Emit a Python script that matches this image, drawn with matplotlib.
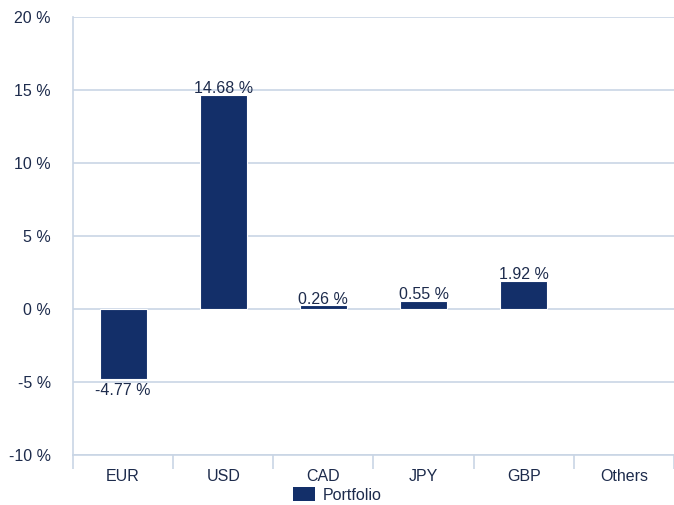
import matplotlib.pyplot as plt
import numpy as np
from matplotlib.patches import Patch

currencies = ["EUR", "USD", "CAD", "JPY", "GBP", "Others"]
portfolio = [-4.77, 14.68, 0.26, 0.55, 1.92, None]
y_ticks = [-10, -5, 0, 5, 10, 15, 20]

navy = "#132f69"
text_col = "#1d2b4c"
grid_col = "#c9d5e5"

plt.rcParams["font.family"] = ["Liberation Sans", "DejaVu Sans"]

fig = plt.figure(figsize=(6.74, 5.05), dpi=100)
ax = fig.add_axes([73 / 674, 50 / 505, 1 - 73 / 674, 438 / 505])

x = np.arange(len(currencies))
for i, v in enumerate(portfolio):
    if v is None:
        continue
    ax.bar(x[i], v, width=0.47, color=navy, edgecolor="white", linewidth=0.8, zorder=3)
    if v >= 0:
        ax.text(x[i], v - 0.1, "%.2f %%" % v, ha="center", va="bottom",
                fontsize=11.5, color=text_col, zorder=4)
    else:
        ax.text(x[i], v - 0.3, "%.2f %%" % v, ha="center", va="top",
                fontsize=11.5, color=text_col, zorder=4)

ax.set_xlim(-0.5, len(currencies) - 0.5)
ax.set_ylim(-10, 20)
ax.set_yticks(y_ticks)
ax.set_yticklabels(["%d %%" % t for t in y_ticks], fontsize=11.5, color=text_col)
ax.yaxis.grid(True, color=grid_col, linewidth=1.2, zorder=0)
ax.tick_params(axis="y", length=0, pad=16)

# category labels between boundary tick marks
ax.set_xticks(x)
ax.set_xticklabels(currencies, fontsize=11.5, color=text_col)
ax.tick_params(axis="x", length=0, pad=10)
ax.set_xticks(np.arange(len(currencies) + 1) - 0.5, minor=True)
ax.tick_params(axis="x", which="minor", length=10, width=1.2, color=grid_col)

for side in ["top", "right"]:
    ax.spines[side].set_visible(False)
for side in ["left", "bottom"]:
    ax.spines[side].set_color(grid_col)
    ax.spines[side].set_linewidth(1.2)

handles = [Patch(facecolor=navy, edgecolor="none", label="Portfolio")]
fig.legend(handles=handles, loc="center", bbox_to_anchor=(0.5, 10 / 505),
           frameon=False, fontsize=11.5, handlelength=1.4, handleheight=1.0,
           handletextpad=0.45, borderpad=0, labelcolor=text_col)

fig.savefig("out.png", dpi=100)
